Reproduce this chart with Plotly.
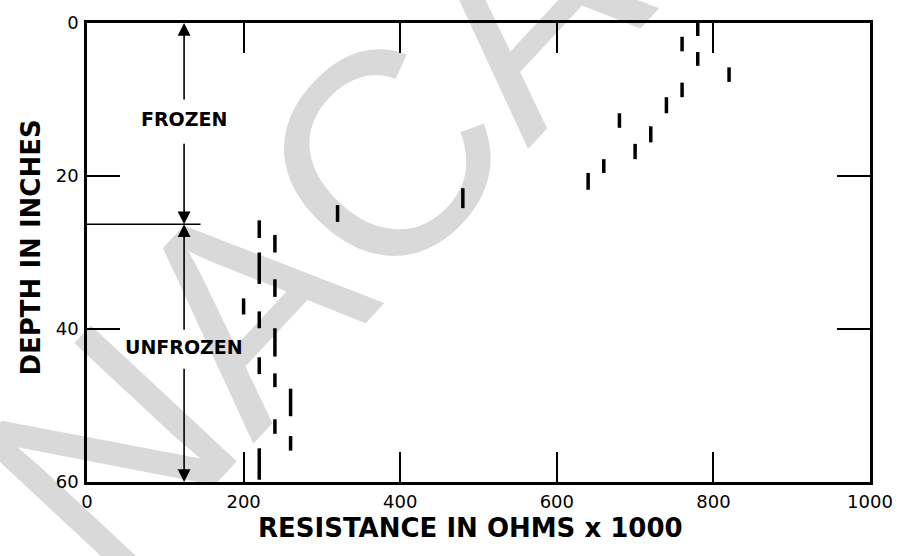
import plotly.graph_objects as go

# Resistance readings: each reading spans a depth interval (inches)
resistance = [780, 760, 780, 820, 760, 740, 680, 720, 700, 660, 640, 480, 320,
              220, 240, 220, 240, 200, 220, 240, 220, 240, 260, 240, 260, 220]
depth_top = [0.0, 1.8, 3.8, 5.8, 7.8, 9.7, 11.8, 13.5, 15.8, 17.8, 19.6, 21.6, 23.8,
             25.8, 27.7, 30.0, 33.5, 36.0, 37.7, 39.9, 43.7, 45.8, 47.8, 51.8, 54.0, 55.6]
depth_bottom = [1.7, 3.7, 5.6, 7.7, 9.7, 11.8, 13.7, 15.6, 17.8, 19.6, 21.8, 24.2, 26.0,
                28.1, 30.0, 34.1, 35.8, 38.1, 39.9, 43.6, 45.9, 47.6, 51.4, 53.7, 55.9, 59.7]

x_ticks = [0, 200, 400, 600, 800, 1000]
y_ticks = [0, 20, 40, 60]

# Frost line and zone markers
frost_depth = 26.3
frost_line_x = [0, 145]
zone_x = 124
zone_labels = ["FROZEN", "UNFROZEN"]
zone_label_depths = [12.5, 42.3]
# arrow segments: (tail depth, head depth)
zone_arrows = [(10.2, 0.0), (15.6, frost_depth), (40.3, frost_depth), (45.0, 60.0)]

xs, ys = [], []
for r, t, b in zip(resistance, depth_top, depth_bottom):
    xs += [r, r, None]
    ys += [t, b, None]

fig = go.Figure()
fig.add_trace(go.Scatter(x=xs, y=ys, mode="lines",
                         line=dict(color="black", width=3.5),
                         hoverinfo="skip", showlegend=False))
fig.add_trace(go.Scatter(x=frost_line_x, y=[frost_depth, frost_depth], mode="lines",
                         line=dict(color="black", width=1.5),
                         hoverinfo="skip", showlegend=False))

annotations = []
# faint watermark lettering
annotations.append(dict(text="NACA", xref="paper", yref="paper", x=0.287, y=0.542,
                        xanchor="center", yanchor="middle", showarrow=False,
                        textangle=-47,
                        font=dict(family="Liberation Sans", size=290,
                                  color="rgba(0,0,0,0.15)")))
for tail, head in zone_arrows:
    annotations.append(dict(x=zone_x, y=head, ax=zone_x, ay=tail,
                            xref="x", yref="y", axref="x", ayref="y",
                            text="", showarrow=True, arrowhead=2,
                            arrowsize=1.6, arrowwidth=1.6, arrowcolor="black"))
for lab, d in zip(zone_labels, zone_label_depths):
    annotations.append(dict(x=zone_x, y=d, xref="x", yref="y", text=lab,
                            showarrow=False, xanchor="center", yanchor="middle",
                            font=dict(family="DejaVu Sans", size=19, color="black",
                                      weight="bold")))
# axis titles
annotations.append(dict(text="DEPTH IN INCHES", xref="paper", yref="paper",
                        x=-0.072, y=0.51, textangle=-90, showarrow=False,
                        xanchor="center", yanchor="middle",
                        font=dict(family="DejaVu Sans", size=26, color="black",
                                  weight="bold")))
annotations.append(dict(text="RESISTANCE IN OHMS x 1000", xref="paper", yref="paper",
                        x=0.49, y=-0.1, showarrow=False,
                        xanchor="center", yanchor="middle",
                        font=dict(family="DejaVu Sans", size=26, color="black",
                                  weight="bold")))

axis_common = dict(showgrid=False, zeroline=False, showline=True, linecolor="black",
                   linewidth=2.5, mirror="ticks", ticks="inside", tickwidth=2,
                   tickcolor="black",
                   tickfont=dict(family="DejaVu Sans", size=18, color="black"))

fig.update_layout(
    width=905, height=556,
    margin=dict(l=87, r=26, t=13, b=74),
    paper_bgcolor="white", plot_bgcolor="white",
    annotations=annotations,
    xaxis=dict(range=[0, 1000], tickvals=x_ticks, ticklen=30,
               ticklabelstandoff=2, **axis_common),
    yaxis=dict(range=[60, 0], tickvals=y_ticks, ticklen=33,
               ticklabelstandoff=2, **axis_common),
)

fig.write_html("out.html")
